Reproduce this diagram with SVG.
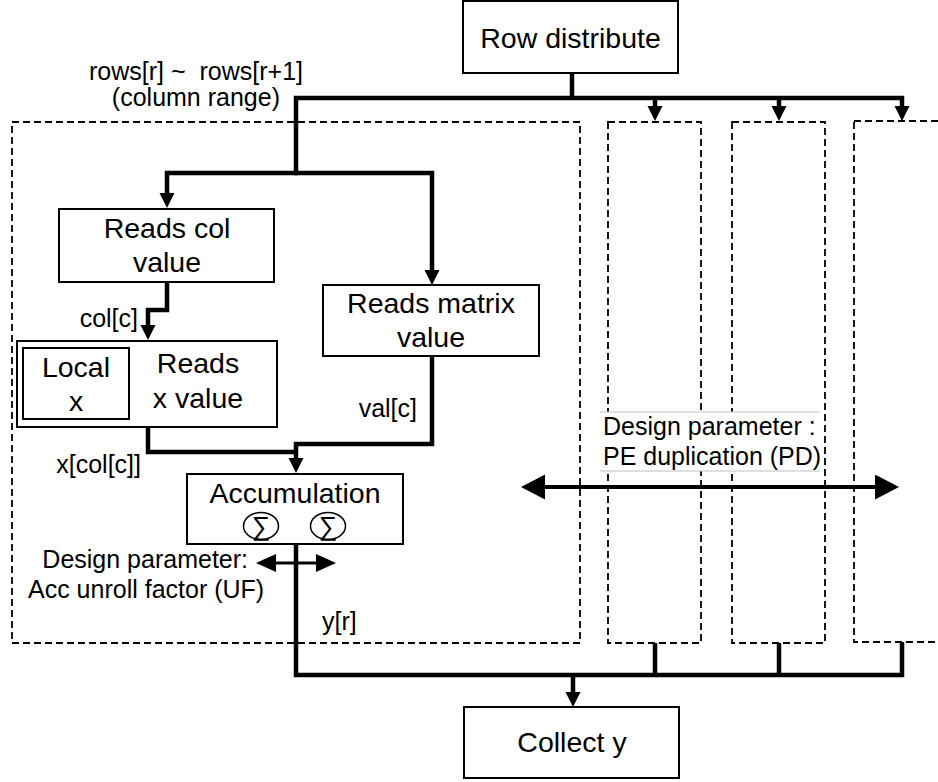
<svg xmlns="http://www.w3.org/2000/svg" width="938" height="782" viewBox="0 0 938 782">
  <defs>
    <marker id="arrow" markerUnits="userSpaceOnUse" markerWidth="16" markerHeight="16" refX="1" refY="7.5" orient="auto">
      <path d="M0,0 L15,7.5 L0,15 z" fill="#000"/>
    </marker>
    <marker id="arrow-uf" markerUnits="userSpaceOnUse" markerWidth="22" markerHeight="20" refX="1" refY="9" orient="auto">
      <path d="M0,0 L20,9 L0,18 z" fill="#000"/>
    </marker>
    <marker id="arrow-pd" markerUnits="userSpaceOnUse" markerWidth="26" markerHeight="28" refX="1" refY="12.5" orient="auto">
      <path d="M0,0 L24,12.5 L0,25 z" fill="#000"/>
    </marker>
  </defs>
  <style>
    .box { fill: #fff; stroke: #000; stroke-width: 2; }
    .pe { fill: none; stroke: #000; stroke-width: 1.8; stroke-dasharray: 7 4; }
    .wire { fill: none; stroke: #000; stroke-width: 4.5; stroke-linejoin: miter; }
    .range { fill: none; stroke: #000; }
    .node { font-family: "Liberation Sans", Arial, sans-serif; font-size: 28.5px; fill: #000; text-anchor: middle; }
    .lbl { font-family: "Liberation Sans", Arial, sans-serif; font-size: 25px; fill: #000; }
    .sum { font-family: "Liberation Sans", "DejaVu Sans", sans-serif; font-size: 26px; text-anchor: middle; }
  </style>
  <rect width="938" height="782" fill="#fff"/>

  <!-- processing element outlines -->
  <g id="pe-blocks">
    <rect class="pe" x="12" y="122" width="568" height="521"/>
    <rect class="pe" x="608" y="122" width="93" height="521"/>
    <rect class="pe" x="732" y="122" width="93" height="521"/>
    <rect class="pe" x="854" y="121" width="110" height="521"/>
  </g>

  <!-- connectors -->
  <g id="connectors">
    <path class="wire" d="M572,73 V98"/>
    <path class="wire" d="M296,173 V98 H902 V107" marker-end="url(#arrow)"/>
    <path class="wire" d="M655,98 V107" marker-end="url(#arrow)"/>
    <path class="wire" d="M779,98 V107" marker-end="url(#arrow)"/>
    <path class="wire" d="M298,173 H167 V194" marker-end="url(#arrow)"/>
    <path class="wire" d="M294,173 H432 V271" marker-end="url(#arrow)"/>
    <path class="wire" d="M167,282 V310 H148 V326" marker-end="url(#arrow)"/>
    <path class="wire" d="M148,427 V452 H298"/>
    <path class="wire" d="M432,356 V444 H296 V459" marker-end="url(#arrow)"/>
    <path class="wire" d="M296,544 V675 H902 V642"/>
    <path class="wire" d="M655,643 V675"/>
    <path class="wire" d="M779,643 V675"/>
    <path class="wire" d="M573,675 V693" marker-end="url(#arrow)"/>
    <!-- design parameter ranges (double-headed) -->
    <path class="range" d="M296,563 H317" stroke-width="3" marker-end="url(#arrow-uf)"/>
    <path class="range" d="M296,563 H275" stroke-width="3" marker-end="url(#arrow-uf)"/>
    <path class="range" d="M710,487 H876" stroke-width="4" marker-end="url(#arrow-pd)"/>
    <path class="range" d="M710,487 H544" stroke-width="4" marker-end="url(#arrow-pd)"/>
  </g>

  <g id="row-distribute">
    <rect class="box" x="463" y="1" width="215" height="72"/>
    <text class="node" x="570.5" y="48">Row distribute</text>
  </g>

  <g id="reads-col">
    <rect class="box" x="59" y="209" width="215" height="73"/>
    <text class="node" x="167" y="238">Reads col</text>
    <text class="node" x="167" y="272">value</text>
  </g>

  <g id="reads-matrix">
    <rect class="box" x="323" y="285" width="216" height="71"/>
    <text class="node" x="431" y="313">Reads matrix</text>
    <text class="node" x="431" y="347">value</text>
  </g>

  <g id="reads-x">
    <rect class="box" x="17" y="341" width="260" height="86"/>
    <rect class="box" x="23" y="348" width="106" height="71"/>
    <text class="node" x="76" y="377">Local</text>
    <text class="node" x="76" y="411">x</text>
    <text class="node" x="198" y="373">Reads</text>
    <text class="node" x="198" y="408">x value</text>
  </g>

  <g id="accumulation">
    <rect class="box" x="187" y="474" width="216" height="70"/>
    <text class="node" x="295" y="503">Accumulation</text>
    <ellipse cx="261" cy="526" rx="17.5" ry="13.5" fill="none" stroke="#000" stroke-width="1.5"/>
    <ellipse cx="328" cy="526" rx="17.5" ry="13.5" fill="none" stroke="#000" stroke-width="1.5"/>
    <text class="sum" x="261" y="535">∑</text>
    <text class="sum" x="328" y="535">∑</text>
  </g>

  <g id="collect-y">
    <rect class="box" x="464" y="707" width="215" height="71"/>
    <text class="node" x="572" y="752">Collect y</text>
  </g>

  <!-- edge labels -->
  <g id="labels">
    <text class="lbl" x="303" y="80" text-anchor="end" font-size="24" xml:space="preserve">rows[r] ~  rows[r+1]</text>
    <text class="lbl" x="280" y="106" text-anchor="end" font-size="24">(column range)</text>
    <text class="lbl" x="138" y="327" text-anchor="end">col[c]</text>
    <text class="lbl" x="417" y="417" text-anchor="end">val[c]</text>
    <text class="lbl" x="141" y="473" text-anchor="end">x[col[c]]</text>
    <text class="lbl" x="322" y="630">y[r]</text>
    <text class="lbl" x="248" y="568" text-anchor="end">Design parameter:</text>
    <text class="lbl" x="28" y="598">Acc unroll factor (UF)</text>
  </g>

  <g id="pd-note">
    <rect x="600" y="412" width="220" height="59" fill="#fff"/>
    <line x1="600" y1="412" x2="820" y2="412" stroke="#bfbfbf" stroke-width="1"/>
    <line x1="600" y1="471" x2="820" y2="471" stroke="#bfbfbf" stroke-width="1"/>
    <text class="lbl" x="603" y="435">Design parameter :</text>
    <text class="lbl" x="603" y="465">PE duplication (PD)</text>
  </g>
</svg>
